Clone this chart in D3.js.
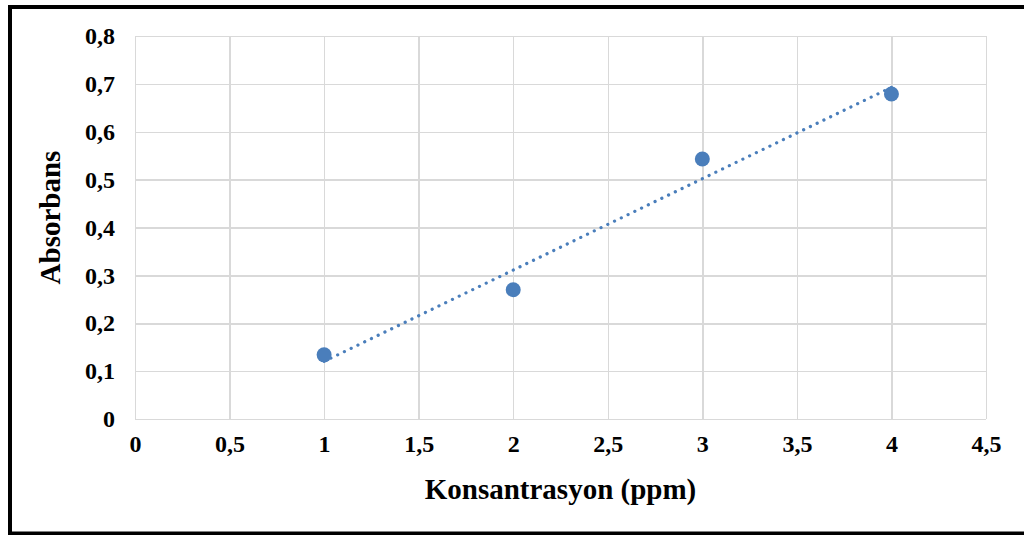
<!DOCTYPE html>
<meta charset="utf-8">
<style>
body { margin: 0; background: #fff; }
.grid line { stroke: #d9d9d9; stroke-width: 1.5px; shape-rendering: crispEdges; }
.grid path { stroke: none; }
.axis text { font: bold 24px "Liberation Serif", "Times New Roman", serif; fill: #000; }
.axis path, .axis line { stroke: none; }
.title { font: bold 29px "Liberation Serif", "Times New Roman", serif; fill: #000; }
.trend { fill: none; stroke: #4a7ebb; stroke-width: 3.2px; stroke-dasharray: 0.1, 7.4; stroke-linecap: round; }
</style>
<body>
<script src="https://d3js.org/d3.v7.min.js"></script>
<script>

// data
var konsantrasyon = [1, 2, 3, 4];
var absorbans = [0.134, 0.270, 0.543, 0.679];
var xTicks = [0, 0.5, 1, 1.5, 2, 2.5, 3, 3.5, 4, 4.5];
var yTicks = [0, 0.1, 0.2, 0.3, 0.4, 0.5, 0.6, 0.7, 0.8];

var W = 1024, H = 535;
var margin = {top: 36, right: 38, bottom: 116, left: 135},
    width = W - margin.left - margin.right,
    height = H - margin.top - margin.bottom;

var svg = d3.select("body").append("svg")
    .attr("width", W).attr("height", H);

// outer frame
svg.append("rect")
    .attr("x", 10).attr("y", 7)
    .attr("width", W + 10).attr("height", 526.5)
    .attr("fill", "none").attr("stroke", "#000").attr("stroke-width", 4);

var g = svg.append("g")
    .attr("transform", "translate(" + margin.left + "," + margin.top + ")");

var x = d3.scaleLinear().domain([0, 4.5]).range([0, width]);
var y = d3.scaleLinear().domain([0, 0.8]).range([height, 0]);

var fmt = function(d) { return d3.format("~g")(d).replace(".", ","); };

// gridlines
g.append("g").attr("class", "grid")
    .call(d3.axisLeft(y).tickValues(yTicks).tickSize(-width).tickFormat(""));
g.append("g").attr("class", "grid")
    .attr("transform", "translate(0," + height + ")")
    .call(d3.axisBottom(x).tickValues(xTicks).tickSize(-height).tickFormat(""));

// axes labels
g.append("g").attr("class", "axis")
    .attr("transform", "translate(0," + height + ")")
    .call(d3.axisBottom(x).tickValues(xTicks).tickSize(0).tickPadding(16).tickFormat(fmt));
g.append("g").attr("class", "axis")
    .call(d3.axisLeft(y).tickValues(yTicks).tickSize(0).tickPadding(20).tickFormat(fmt));

// linear trendline (least squares)
var mx = d3.mean(konsantrasyon), my = d3.mean(absorbans);
var sxy = d3.sum(konsantrasyon, function(d, i) { return (d - mx) * (absorbans[i] - my); });
var sxx = d3.sum(konsantrasyon, function(d) { return (d - mx) * (d - mx); });
var slope = sxy / sxx, icpt = my - slope * mx;
var x0 = d3.min(konsantrasyon), x1 = d3.max(konsantrasyon);
g.append("line").attr("class", "trend")
    .attr("x1", x(x0)).attr("y1", y(icpt + slope * x0))
    .attr("x2", x(x1)).attr("y2", y(icpt + slope * x1));

// points
g.selectAll("circle")
    .data(konsantrasyon)
    .enter().append("circle")
    .attr("cx", function(d) { return x(d); })
    .attr("cy", function(d, i) { return y(absorbans[i]); })
    .attr("r", 7.5)
    .attr("fill", "#4a7ebb");

// titles
g.append("text").attr("class", "title")
    .attr("x", width / 2).attr("y", height + 80)
    .attr("text-anchor", "middle")
    .text("Konsantrasyon (ppm)");
g.append("text").attr("class", "title")
    .attr("transform", "rotate(-90)")
    .attr("x", -height / 2 + 10).attr("y", -75)
    .attr("text-anchor", "middle")
    .text("Absorbans");

</script>
</body>
